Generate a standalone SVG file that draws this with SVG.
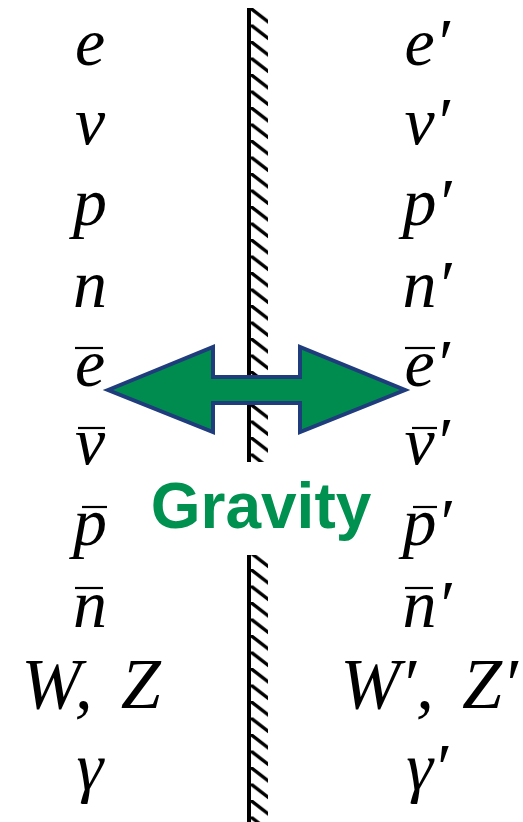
<svg xmlns="http://www.w3.org/2000/svg" width="523" height="822" viewBox="0 0 523 822">
<defs>
<style>
.m{font-family:"Liberation Serif","Times New Roman",serif;font-style:italic;font-size:68px;fill:#000;text-anchor:middle}
.wz{font-size:72px;word-spacing:10px}
.g{font-family:"Liberation Sans",Arial,sans-serif;font-weight:bold;font-size:64px;fill:#009150;text-anchor:middle}
.bar{stroke:#000;stroke-width:2.2}
</style>
<pattern id="hatch" patternUnits="userSpaceOnUse" x="250" y="8" width="19" height="16.5">
<line x1="-1" y1="-1" x2="19" y2="14.5" stroke="#000" stroke-width="3.4"/>
</pattern>
</defs>
<g id="wall">
<rect x="250" y="8" width="18" height="454" fill="url(#hatch)"/>
<rect x="247" y="8" width="4" height="454" fill="#000"/>
<rect x="250" y="555" width="18" height="267" fill="url(#hatch)"/>
<rect x="247" y="555" width="4" height="267" fill="#000"/>
</g>
<g id="left">
<text class="m" x="90" y="65">e</text>
<text class="m" x="90" y="144">ν</text>
<text class="m" x="90" y="225">p</text>
<text class="m" x="90" y="307">n</text>
<text class="m" x="90" y="386">e</text><line class="bar" x1="75" y1="348" x2="103" y2="348"/>
<text class="m" x="90" y="464">ν</text><line class="bar" x1="78" y1="428" x2="105" y2="428"/>
<text class="m" x="90" y="545">p</text><line class="bar" x1="82" y1="507" x2="107" y2="507"/>
<text class="m" x="90" y="627">n</text><line class="bar" x1="75" y1="588" x2="103" y2="588"/>
<text class="m wz" x="91" y="708">W, Z</text>
<text class="m" x="90" y="790">γ</text>
</g>
<g id="right">
<text class="m" x="427" y="65">e′</text>
<text class="m" x="427" y="144">ν′</text>
<text class="m" x="427" y="225">p′</text>
<text class="m" x="427" y="307">n′</text>
<text class="m" x="427" y="386">e′</text><line class="bar" x1="405" y1="348" x2="435" y2="348"/>
<text class="m" x="427" y="464">ν′</text><line class="bar" x1="412" y1="428" x2="437" y2="428"/>
<text class="m" x="427" y="545">p′</text><line class="bar" x1="413" y1="507" x2="437" y2="507"/>
<text class="m" x="427" y="627">n′</text><line class="bar" x1="405" y1="588" x2="433" y2="588"/>
<text class="m wz" x="429" y="708">W′, Z′</text>
<text class="m" x="427" y="790">γ′</text>
</g>
<g id="arrow">
<polygon points="108,390 213,347 213,377 300,377 300,347 405,390 300,432 300,403 213,403 213,432" fill="#008c4f" stroke="#1f3c7d" stroke-width="4" stroke-linejoin="miter"/>
</g>
<g id="label">
<text class="g" x="261" y="528">Gravity</text>
</g>
</svg>
